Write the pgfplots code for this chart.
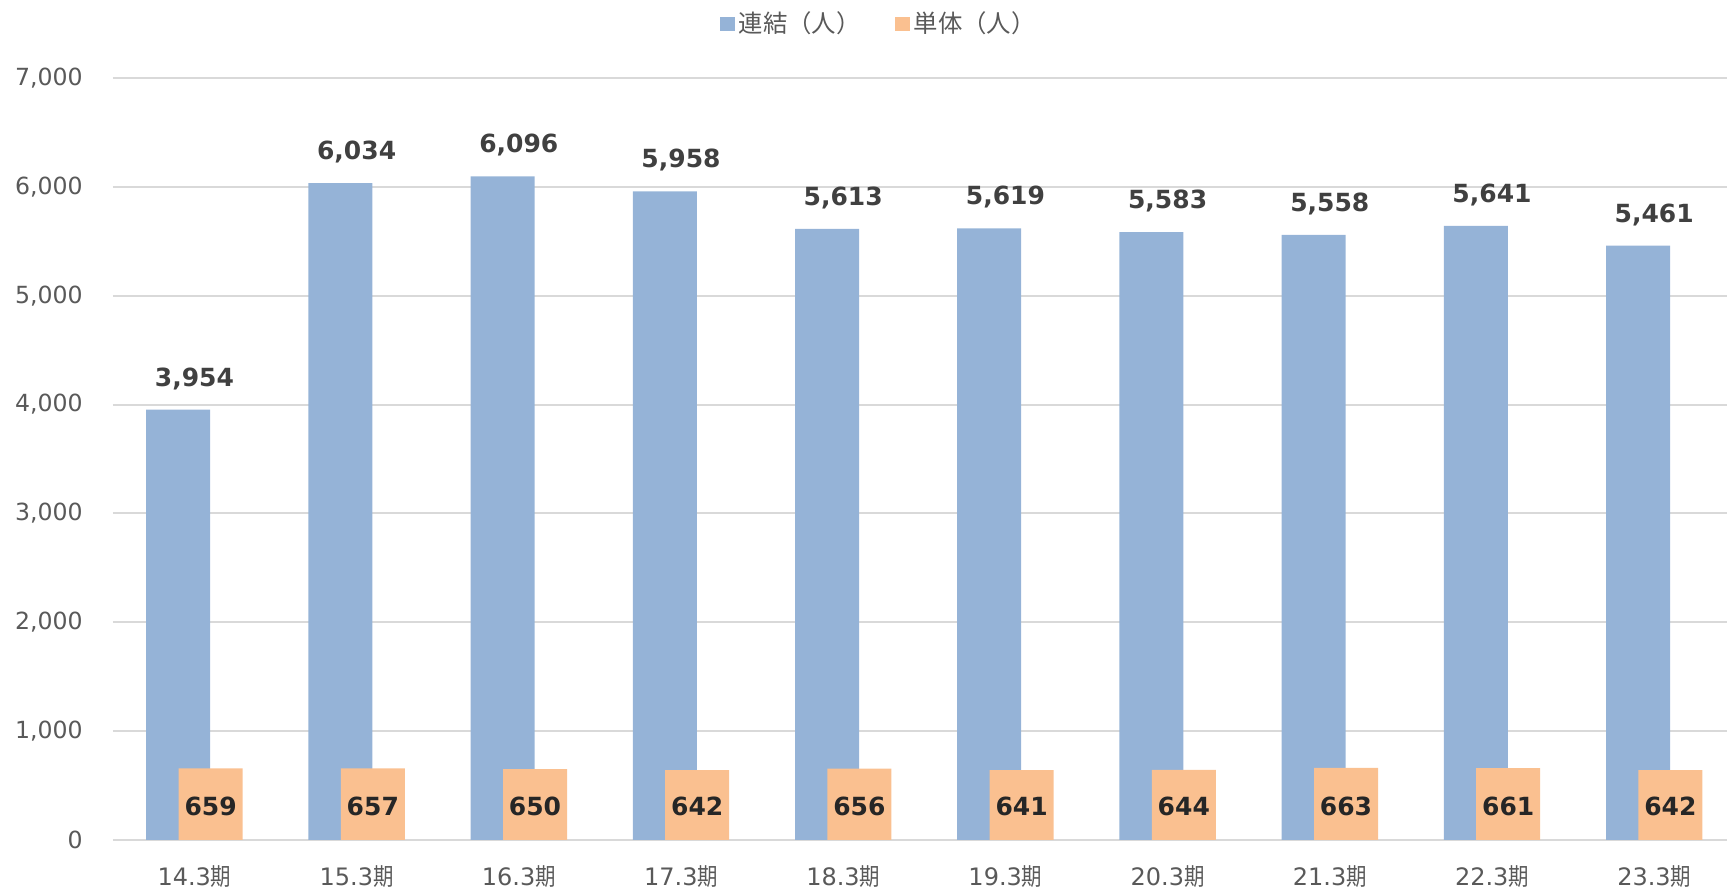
\documentclass[border=0pt]{standalone}
\usepackage{fontspec}
\setmainfont{DejaVu Sans}
\newfontfamily\jp{Noto Sans CJK JP}
\newfontfamily\jpn[FakeStretch=0.85]{Noto Sans CJK JP}
\usepackage{pgfplots}
\pgfplotsset{compat=1.18}
\definecolor{cblue}{HTML}{95B3D7}
\definecolor{corange}{HTML}{FAC090}
\definecolor{cgrid}{HTML}{D9D9D9}
\definecolor{ctick}{HTML}{595959}
\definecolor{clab}{HTML}{404040}
\definecolor{clab2}{HTML}{262626}
\begin{document}
\begin{tikzpicture}
\begin{axis}[
 name=main,
 scale only axis, width=807pt, height=381pt,
 xmin=-0.502, xmax=9.449, ymin=0, ymax=7000,
 xtick={0,...,9},
 xticklabels={14.3{\jpn 期},15.3{\jpn 期},16.3{\jpn 期},17.3{\jpn 期},18.3{\jpn 期},19.3{\jpn 期},20.3{\jpn 期},21.3{\jpn 期},22.3{\jpn 期},23.3{\jpn 期}},
 ytick={0,1000,...,7000},
 scaled y ticks=false,
 major tick length=0pt,
 axis line style={draw=none},
 ymajorgrids, grid style={cgrid, line width=1pt},
 tick label style={text=ctick},
 /pgf/number format/.cd, 1000 sep={,}, assume math mode=true, /pgfplots/.cd,
 yticklabel style={font=\fontsize{11.8}{13}\selectfont, anchor=east, inner sep=0pt, xshift=-15pt},
 xticklabel style={font=\fontsize{12}{14}\selectfont, anchor=base, inner sep=0pt, yshift=-23pt},
 legend style={at={(rel axis cs:0.475,1)}, anchor=center, yshift=27pt, draw=none, fill=none, font=\jp\fontsize{12.2}{14}\selectfont, text=ctick, legend columns=2, /tikz/every even column/.append style={column sep=15pt}},
 legend image code/.code={\path[#1] (0pt,-3.6pt) rectangle (7.5pt,3.6pt);},
 clip=false,
]
\addplot[ybar, bar width=32pt, bar shift=-8.1pt, fill=cblue, draw=none,
  nodes near coords, nodes near coords style={font=\bfseries\fontsize{12.5}{14}\selectfont, text=clab, anchor=center, yshift=15.5pt}]
  coordinates {(0,3954) (1,6034) (2,6096) (3,5958) (4,5613) (5,5619) (6,5583) (7,5558) (8,5641) (9,5461)};
\addplot[ybar, bar width=32pt, bar shift=8.1pt, fill=corange, draw=none]
  coordinates {(0,659) (1,657) (2,650) (3,642) (4,656) (5,641) (6,644) (7,663) (8,661) (9,642)};
\addplot[draw=none, mark=none, forget plot, nodes near coords, point meta=explicit,
  nodes near coords style={font=\bfseries\fontsize{12.5}{14}\selectfont, text=clab2, anchor=center, xshift=8.1pt}]
  coordinates {(0,310)[659] (1,310)[657] (2,310)[650] (3,310)[642] (4,310)[656] (5,310)[641] (6,310)[644] (7,310)[663] (8,310)[661] (9,310)[642]};
\legend{連結（人）,単体（人）}
\end{axis}
\pgfresetboundingbox
\path ([shift={(-56.5pt,-26pt)}]main.south west) rectangle ([shift={(0pt,39pt)}]main.north east);
\end{tikzpicture}
\end{document}
